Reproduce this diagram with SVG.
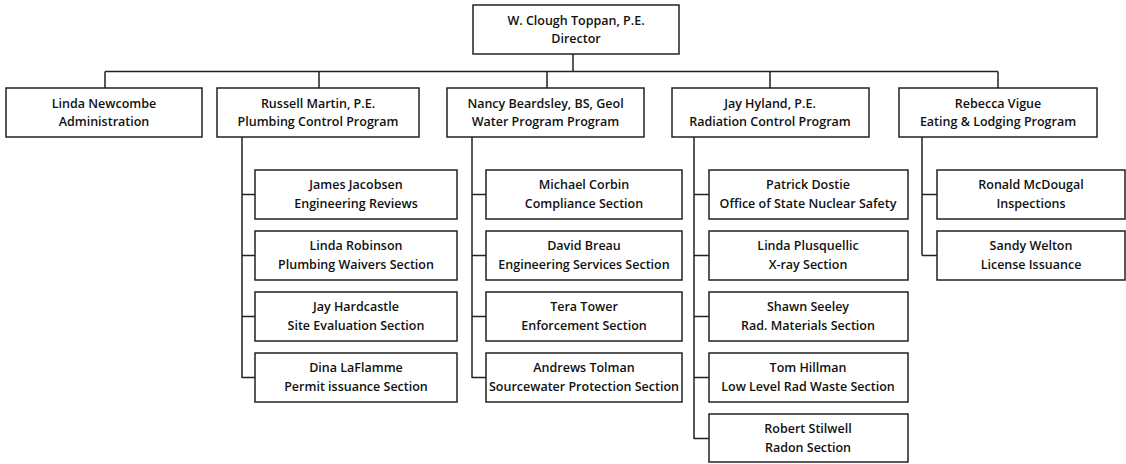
<svg xmlns="http://www.w3.org/2000/svg" width="1126" height="464" viewBox="0 0 1126 464">
  <style>
    .box { fill: #fff; stroke: #222; stroke-width: 1.5; }
    .wire { fill: none; stroke: #222; stroke-width: 1.5; }
    text { font-family: "Open Sans", "Noto Sans", sans-serif; font-size: 12.5px; font-weight: 600; fill: #111; text-anchor: middle; }
  </style>
  <rect width="1126" height="464" fill="#fff"/>

  <!-- reporting lines -->
  <g id="connectors" class="wire">
    <path d="M573 54 V71.5"/>
    <path d="M105 71.5 H998"/>
    <path d="M105 71.5 V88 M319 71.5 V88 M547 71.5 V88 M770 71.5 V88 M998 71.5 V88"/>
    <!-- Plumbing sections -->
    <path d="M242 137 V378 M242 194.5 H255 M242 255.5 H255 M242 316.5 H255 M242 377.5 H255"/>
    <!-- Water sections -->
    <path d="M472 137 V378 M472 194.5 H486 M472 255.5 H486 M472 316.5 H486 M472 377.5 H486"/>
    <!-- Radiation sections -->
    <path d="M694 137 V439 M694 194.5 H709 M694 255.5 H709 M694 316.5 H709 M694 377.5 H709 M694 438.5 H709"/>
    <!-- Eating & Lodging sections -->
    <path d="M922 137 V255.5 M922 194.5 H937 M922 255.5 H937"/>
  </g>

  <g id="director">
    <rect class="box" x="473" y="5" width="206" height="49"/>
    <text x="576" y="25">W. Clough Toppan, P.E.</text>
    <text x="576" y="43">Director</text>
  </g>

  <g id="administration">
    <rect class="box" x="6" y="88" width="196" height="49"/>
    <text x="104" y="108">Linda Newcombe</text>
    <text x="104" y="126">Administration</text>
  </g>
  <g id="plumbing">
    <rect class="box" x="217" y="88" width="202" height="49"/>
    <text x="318" y="108">Russell Martin, P.E.</text>
    <text x="318" y="126">Plumbing Control Program</text>
  </g>
  <g id="water">
    <rect class="box" x="447" y="88" width="197" height="49"/>
    <text x="545.5" y="108">Nancy Beardsley, BS, Geol</text>
    <text x="545.5" y="126">Water Program Program</text>
  </g>
  <g id="radiation">
    <rect class="box" x="672" y="88" width="197" height="49"/>
    <text x="770" y="108">Jay Hyland, P.E.</text>
    <text x="770" y="126">Radiation Control Program</text>
  </g>
  <g id="eating-lodging">
    <rect class="box" x="899" y="88" width="198" height="49"/>
    <text x="998" y="108">Rebecca Vigue</text>
    <text x="998" y="126">Eating &amp; Lodging Program</text>
  </g>

  <!-- Plumbing column -->
  <g id="jacobsen">
    <rect class="box" x="255" y="170" width="202" height="49"/>
    <text x="356" y="189">James Jacobsen</text>
    <text x="356" y="208">Engineering Reviews</text>
  </g>
  <g id="robinson">
    <rect class="box" x="255" y="231" width="202" height="49"/>
    <text x="356" y="250">Linda Robinson</text>
    <text x="356" y="269">Plumbing Waivers Section</text>
  </g>
  <g id="hardcastle">
    <rect class="box" x="255" y="292" width="202" height="49"/>
    <text x="356" y="311">Jay Hardcastle</text>
    <text x="356" y="330">Site Evaluation Section</text>
  </g>
  <g id="laflamme">
    <rect class="box" x="255" y="353" width="202" height="49"/>
    <text x="356" y="372">Dina LaFlamme</text>
    <text x="356" y="391">Permit issuance Section</text>
  </g>

  <!-- Water column -->
  <g id="corbin">
    <rect class="box" x="486" y="170" width="196" height="49"/>
    <text x="584" y="189">Michael Corbin</text>
    <text x="584" y="208">Compliance Section</text>
  </g>
  <g id="breau">
    <rect class="box" x="486" y="231" width="196" height="49"/>
    <text x="584" y="250">David Breau</text>
    <text x="584" y="269">Engineering Services Section</text>
  </g>
  <g id="tower">
    <rect class="box" x="486" y="292" width="196" height="49"/>
    <text x="584" y="311">Tera Tower</text>
    <text x="584" y="330">Enforcement Section</text>
  </g>
  <g id="tolman">
    <rect class="box" x="486" y="353" width="196" height="49"/>
    <text x="584" y="372">Andrews Tolman</text>
    <text x="584" y="391">Sourcewater Protection Section</text>
  </g>

  <!-- Radiation column -->
  <g id="dostie">
    <rect class="box" x="709" y="170" width="199" height="49"/>
    <text x="808" y="189">Patrick Dostie</text>
    <text x="808" y="208">Office of State Nuclear Safety</text>
  </g>
  <g id="plusquellic">
    <rect class="box" x="709" y="231" width="199" height="49"/>
    <text x="808" y="250">Linda Plusquellic</text>
    <text x="808" y="269">X-ray Section</text>
  </g>
  <g id="seeley">
    <rect class="box" x="709" y="292" width="199" height="49"/>
    <text x="808" y="311">Shawn Seeley</text>
    <text x="808" y="330">Rad. Materials Section</text>
  </g>
  <g id="hillman">
    <rect class="box" x="709" y="353" width="199" height="49"/>
    <text x="808" y="372">Tom Hillman</text>
    <text x="808" y="391">Low Level Rad Waste Section</text>
  </g>
  <g id="stilwell">
    <rect class="box" x="709" y="414" width="199" height="48"/>
    <text x="808" y="433">Robert Stilwell</text>
    <text x="808" y="452">Radon Section</text>
  </g>

  <!-- Eating & Lodging column -->
  <g id="mcdougal">
    <rect class="box" x="937" y="170" width="188" height="49"/>
    <text x="1031" y="189">Ronald McDougal</text>
    <text x="1031" y="208">Inspections</text>
  </g>
  <g id="welton">
    <rect class="box" x="937" y="231" width="188" height="49"/>
    <text x="1031" y="250">Sandy Welton</text>
    <text x="1031" y="269">License Issuance</text>
  </g>
</svg>
